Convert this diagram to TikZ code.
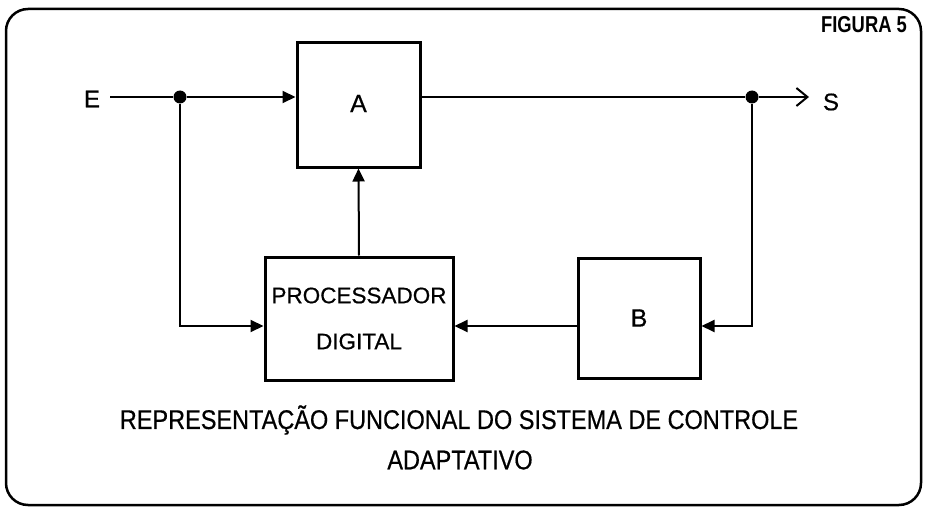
\documentclass[tikz,border=0pt]{standalone}
\usepackage{fontspec}
\setmainfont{Liberation Sans}[FakeBold=0.6]
\newfontfamily\narrowfont[FakeStretch=0.87,FakeBold=0.5]{Liberation Sans}
\newfontfamily\narrowbold[FakeStretch=0.80]{Liberation Sans Bold}
\usetikzlibrary{arrows.meta,calc}
\begin{document}
\begin{tikzpicture}[x=1pt,y=-1pt,
  blockbox/.style={draw,line width=3pt,inner sep=0pt,font=\fontsize{22.5}{26}\selectfont},
  conn/.style={line width=2pt},
  feed/.style={conn,-{Triangle[length=13pt,width=12pt]}},
  outarrow/.style={conn,-{Straight Barb[length=11pt,width=18pt,line width=2pt]}},
  junction/.style={circle,fill,inner sep=0pt,minimum size=13pt},
  lbl/.style={font=\fontsize{24}{26}\selectfont,inner sep=0pt},
  captext/.style={font=\narrowfont\fontsize{27}{30}\selectfont,inner sep=0pt}]
\useasboundingbox (0,0) rectangle (927,511);
\draw[line width=2.5pt,rounded corners=22pt] (6,9) rectangle (921,505);
\node[font=\narrowbold\fontsize{23}{26}\selectfont,inner sep=0pt] (fig) at (864,25) {FIGURA 5};
% blocks
\node[blockbox,minimum width=123pt,minimum height=124pt,font=\fontsize{25}{28}\selectfont] (A) at (358.5,105) {\raisebox{3pt}{A}};
\node[blockbox,minimum width=188pt,minimum height=123pt,align=center] (P) at (359,318.5) {PROCESSADOR\\[20pt]DIGITAL};
\node[blockbox,minimum width=122pt,minimum height=120pt,font=\fontsize{25}{28}\selectfont] (B) at (639,318) {\raisebox{-5pt}{B}};
% labels and points
\node[lbl] (E) at (92,99) {E};
\node[lbl] (S) at (831,102) {S};
\coordinate (es) at (110,97);
\node[junction] (d1) at (180,97) {};
\node[junction] (d2) at (752,97) {};
\coordinate (so) at (809,97);
\coordinate (fb) at (0,326);
% connectors
\draw[conn] (es) -- (d1);
\draw[feed] (d1) -- (d1 -| A.west);
\draw[feed] (d1) |- (P.west |- fb);
\draw[feed] (P.north) -- (A.south);
\draw[conn] (A.east |- d2) -- (d2);
\draw[outarrow] (d2) -- (so);
\draw[feed] (d2) |- (B.east |- fb);
\draw[feed] (B.west |- fb) -- (P.east |- fb);
% caption
\node[captext] (c1) at (459,420) {REPRESENTAÇÃO FUNCIONAL DO SISTEMA DE CONTROLE};
\node[captext] (c2) at (460,460) {ADAPTATIVO};
\end{tikzpicture}
\end{document}
